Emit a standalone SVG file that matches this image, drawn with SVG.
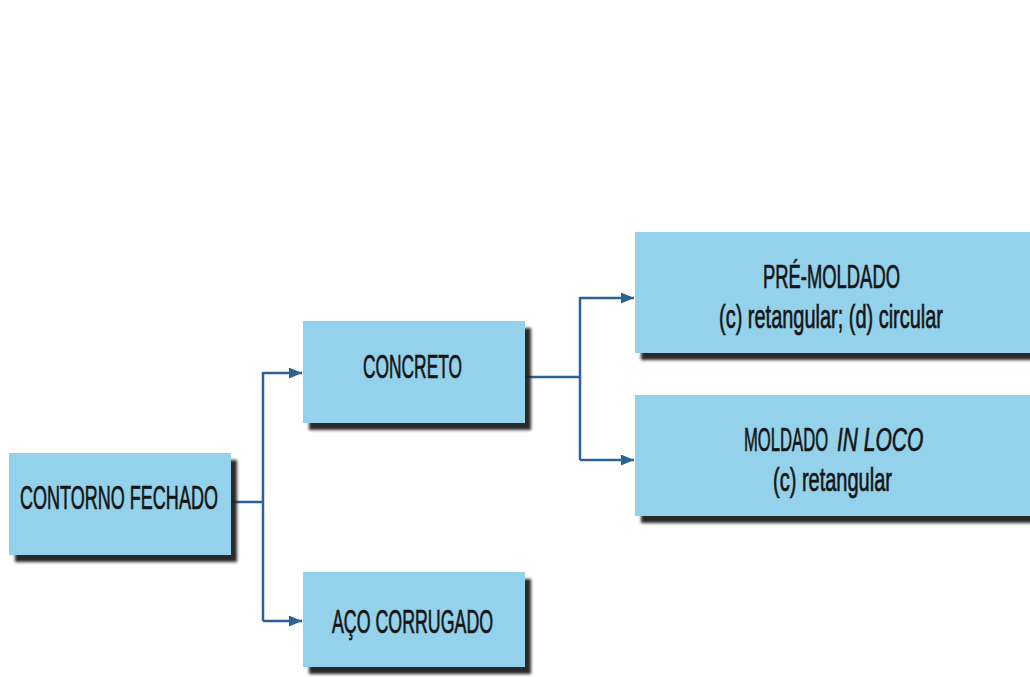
<svg xmlns="http://www.w3.org/2000/svg" width="1030" height="677" viewBox="0 0 1030 677">
<defs>
<filter id="sh" x="-10%" y="-10%" width="130%" height="140%">
<feDropShadow dx="6" dy="7" stdDeviation="1.6" flood-color="#1a1a1a" flood-opacity="0.95"/>
</filter>
<marker id="ah" viewBox="0 0 13 11" refX="13" refY="5.5" markerWidth="13" markerHeight="11" markerUnits="userSpaceOnUse" orient="auto">
<path d="M0,0 L13,5.5 L0,11 Z" fill="#2a6394"/>
</marker>
<style>
.box{fill:#94d1ea;filter:url(#sh)}
.t{font-family:"Liberation Sans",Arial,sans-serif;font-size:33px;fill:#151515;stroke:#151515;stroke-width:0.7;text-anchor:middle}
.s{text-anchor:start}
.c{fill:none;stroke:#2a6394;stroke-width:2.5}
</style>
</defs>
<rect width="1030" height="677" fill="#ffffff"/>
<g id="connectors">
<path class="c" d="M231,502 H263"/>
<path class="c" d="M263,372 V621"/>
<path class="c" d="M263,373 H302" marker-end="url(#ah)"/>
<path class="c" d="M263,621 H302" marker-end="url(#ah)"/>
<path class="c" d="M525,377 H580"/>
<path class="c" d="M580,297 V460"/>
<path class="c" d="M580,298 H634" marker-end="url(#ah)"/>
<path class="c" d="M580,460 H634" marker-end="url(#ah)"/>
</g>
<g id="contorno-fechado">
<rect class="box" x="9" y="453" width="222" height="102"/>
<text class="t" transform="translate(119,509) scale(0.545,1)" textLength="363" lengthAdjust="spacingAndGlyphs">CONTORNO FECHADO</text>
</g>
<g id="concreto">
<rect class="box" x="303" y="321" width="222" height="102"/>
<text class="t" transform="translate(412.5,378) scale(0.524,1)" textLength="189" lengthAdjust="spacingAndGlyphs">CONCRETO</text>
</g>
<g id="aco-corrugado">
<rect class="box" x="303" y="572" width="222" height="95"/>
<text class="t" transform="translate(412.5,633) scale(0.539,1)" textLength="299" lengthAdjust="spacingAndGlyphs">AÇO CORRUGADO</text>
</g>
<g id="pre-moldado">
<rect class="box" x="635" y="232" width="395" height="121"/>
<text class="t" transform="translate(831.5,288) scale(0.558,1)" textLength="245.5" lengthAdjust="spacingAndGlyphs">PRÉ-MOLDADO</text>
<text class="t" transform="translate(831,328) scale(0.605,1)" textLength="370" lengthAdjust="spacingAndGlyphs">(c) retangular; (d) circular</text>
</g>
<g id="moldado-in-loco">
<rect class="box" x="635" y="395" width="395" height="121"/>
<text class="t s" transform="translate(744,451) scale(0.504,1)" textLength="167" lengthAdjust="spacingAndGlyphs">MOLDADO</text>
<text class="t s" transform="translate(837,451) scale(0.634,1)" textLength="136" lengthAdjust="spacingAndGlyphs" font-style="italic">IN LOCO</text>
<text class="t" transform="translate(832.5,491) scale(0.607,1)" textLength="196" lengthAdjust="spacingAndGlyphs">(c) retangular</text>
</g>
</svg>
